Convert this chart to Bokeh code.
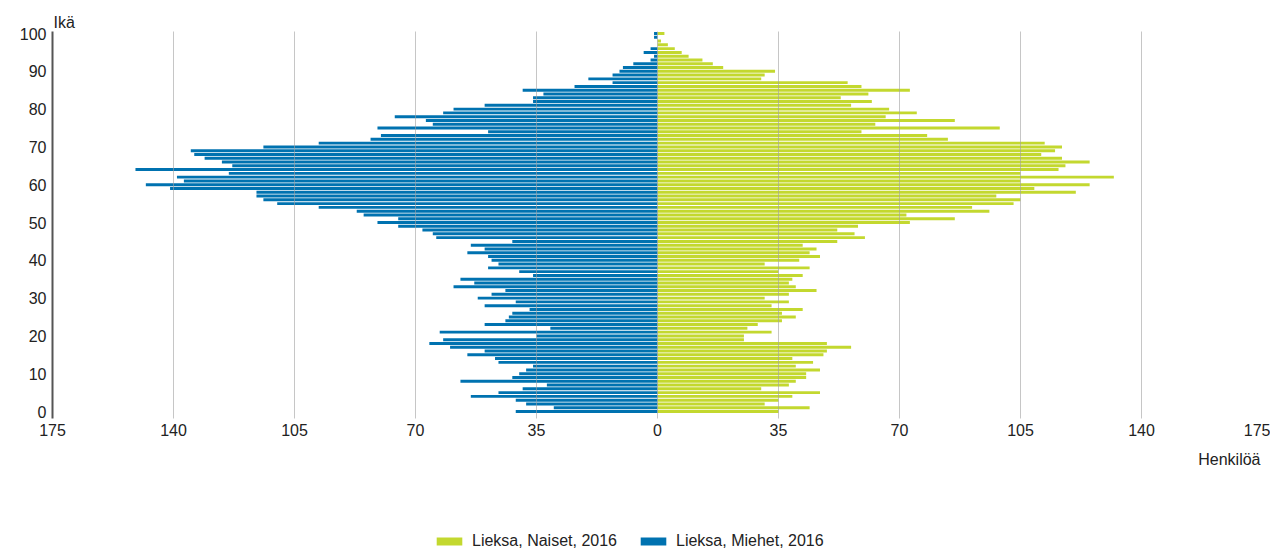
from bokeh.plotting import figure
from bokeh.layouts import column
from bokeh.models import (Range1d, FixedTicker, Legend, LegendItem, Title, ColumnDataSource)
from bokeh.embed import file_html
from bokeh.resources import INLINE

ages = list(range(0, 101))

men = [41, 30, 38, 41, 54, 46, 39, 32, 57, 42,
       40, 38, 36, 46, 47, 55, 50, 60, 66, 62,
       35, 63, 31, 50, 44, 43, 42, 37, 50, 41,
       52, 48, 44, 59, 53, 57, 36, 40, 49, 46,
       48, 49, 55, 50, 54, 42, 64, 65, 68, 75,
       81, 75, 85, 87, 98, 110, 114, 116, 116, 141,
       148, 137, 139, 124, 151, 123, 126, 131, 134, 135,
       114, 98, 83, 80, 49, 81, 65, 67, 76, 62,
       59, 50, 36, 36, 33, 39, 24, 13, 20, 13,
       11, 10, 7, 2, 1, 4, 2, 0, 0, 1,
       1]

women = [35, 44, 31, 35, 39, 47, 30, 38, 40, 43,
         43, 47, 40, 45, 39, 48, 49, 56, 49, 25,
         25, 33, 26, 29, 36, 40, 36, 42, 33, 38,
         31, 38, 46, 40, 38, 39, 42, 35, 44, 31,
         41, 47, 44, 46, 42, 52, 60, 57, 52, 58,
         73, 86, 72, 96, 91, 103, 105, 98, 121, 109,
         125, 105, 132, 105, 116, 118, 125, 117, 111, 115,
         117, 112, 84, 78, 59, 99, 63, 86, 66, 75,
         67, 56, 62, 53, 61, 73, 59, 55, 30, 31,
         34, 19, 16, 13, 9, 7, 5, 3, 1, 0,
         2]

x_ticks = [-175, -140, -105, -70, -35, 0, 35, 70, 105, 140, 175]
y_ticks = [0, 10, 20, 30, 40, 50, 60, 70, 80, 90, 100]

series_women = "Lieksa, Naiset, 2016"
series_men = "Lieksa, Miehet, 2016"
x_title = "Henkilöä"
y_title = "Ikä"

GREEN = "#c3d82f"
BLUE = "#0072b0"
FONT = "Liberation Sans"
FS = "16px"
TXT = "#222222"

src = ColumnDataSource(dict(age=ages, men_left=[-v for v in men], women=women,
                            zero=[0] * len(ages)))

p = figure(width=1270, height=488, output_backend="svg", toolbar_location=None,
           x_range=Range1d(-175, 175), y_range=Range1d(-1.85, 100.53),
           min_border_left=52, min_border_right=8, min_border_top=31,
           min_border_bottom=70)
p.outline_line_color = None

p.hbar(y="age", left="zero", right="women", height=0.78, source=src,
       fill_color=GREEN, line_color=None)
p.hbar(y="age", left="men_left", right="zero", height=0.78, source=src,
       fill_color=BLUE, line_color=None)

# x axis
p.xaxis.ticker = FixedTicker(ticks=x_ticks)
p.xaxis.major_label_overrides = {t: str(abs(t)) for t in x_ticks}
p.xaxis.axis_line_color = None
p.xaxis.major_tick_line_color = None
p.xaxis.major_tick_out = 0
p.xaxis.major_tick_in = 0
p.xaxis.minor_tick_line_color = None
p.xaxis.major_label_standoff = 5
p.xaxis.major_label_text_font = FONT
p.xaxis.major_label_text_font_size = FS
p.xaxis.major_label_text_color = TXT

# y axis
p.yaxis.ticker = FixedTicker(ticks=y_ticks)
p.yaxis.axis_line_color = "#555555"
p.yaxis.axis_line_width = 2
p.yaxis.major_tick_line_color = None
p.yaxis.major_tick_out = 0
p.yaxis.major_tick_in = 0
p.yaxis.minor_tick_line_color = None
p.yaxis.major_label_standoff = 6
p.yaxis.major_label_text_font = FONT
p.yaxis.major_label_text_font_size = FS
p.yaxis.major_label_text_color = TXT

p.xgrid.ticker = FixedTicker(ticks=x_ticks)
p.xgrid.grid_line_color = "#a0a0a0"
p.xgrid.grid_line_alpha = 0.6
p.xgrid.level = "overlay"
p.ygrid.grid_line_color = None

p.add_layout(Title(text=y_title, align="left", offset=1, standoff=2,
                   text_font=FONT, text_font_size=FS, text_color=TXT,
                   text_font_style="normal"), "above")
p.add_layout(Title(text=x_title, align="right", offset=2, standoff=20,
                   text_font=FONT, text_font_size=FS, text_color=TXT,
                   text_font_style="normal"), "below")

# legend strip: proxy renderers are hidden, only the legend is drawn
pl = figure(width=1270, height=62, output_backend="svg", toolbar_location=None,
            x_range=Range1d(-175, 175), y_range=Range1d(-1.85, 100.53),
            x_axis_location=None, y_axis_location=None, min_border=0)
pl.outline_line_color = None
pl.grid.visible = False
lw = pl.hbar(y="age", left="zero", right="women", height=0.78, source=src,
             fill_color=GREEN, line_color=None, visible=False)
lm = pl.hbar(y="age", left="men_left", right="zero", height=0.78, source=src,
             fill_color=BLUE, line_color=None, visible=False)
legend = Legend(items=[LegendItem(label=series_women, renderers=[lw]),
                       LegendItem(label=series_men, renderers=[lm])],
                orientation="horizontal", location=(381, 0),
                glyph_width=32, glyph_height=10, label_standoff=7, spacing=20,
                padding=0, margin=0, border_line_color=None,
                background_fill_alpha=0, click_policy="none",
                label_text_font=FONT, label_text_font_size=FS,
                label_text_color=TXT, label_height=12)
pl.add_layout(legend, "center")

layout = column(p, pl, spacing=0)
open("out.html", "w").write(file_html(layout, INLINE))
